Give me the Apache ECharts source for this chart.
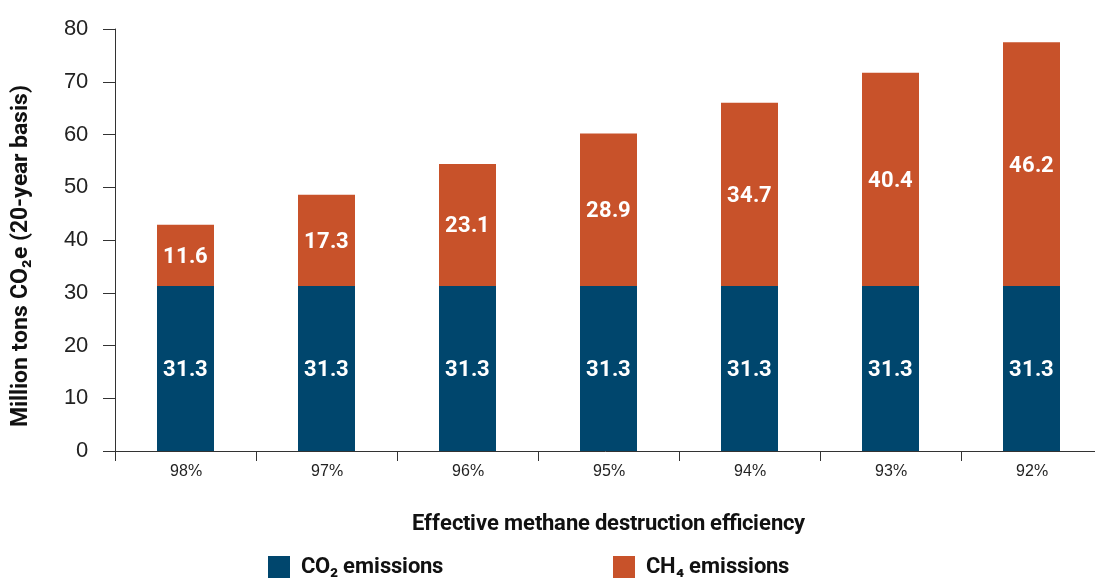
<!DOCTYPE html>
<html>
<head>
<meta charset="utf-8">
<style>
  @font-face {
    font-family: "ChartCond";
    font-weight: bold;
    src: local("Liberation Sans Narrow Bold"), local("LiberationSansNarrow-Bold"),
         local("Roboto Condensed Bold"), local("RobotoCondensed-Bold"),
         local("DejaVu Sans Condensed Bold"), local("DejaVuSansCondensed-Bold"),
         local("Open Sans Condensed Bold"), local("OpenSansCondensed-Bold");
  }
  @font-face {
    font-family: "ChartPlain";
    font-weight: normal;
    src: local("Liberation Sans"), local("LiberationSans"), local("LiberationSans-Regular"),
         local("Arimo"), local("Arimo-Regular");
  }
  html, body { margin: 0; padding: 0; background: #ffffff; }
  #chart { width: 1095px; height: 578px; }
</style>
<script src="https://cdn.jsdelivr.net/npm/echarts@6/dist/echarts.min.js"></script>
</head>
<body>
<div id="chart"></div>
<script>
// Destruction efficiency categories
const categories = ['98%', '97%', '96%', '95%', '94%', '93%', '92%'];
// Emissions, million tons CO2e (20-year basis)
const co2Emissions = [31.3, 31.3, 31.3, 31.3, 31.3, 31.3, 31.3];
const ch4Emissions = [11.6, 17.3, 23.1, 28.9, 34.7, 40.4, 46.2];
const yTicks = { min: 0, max: 80, interval: 10 };

const condensed = 'ChartCond, "Liberation Sans Narrow", "DejaVu Sans Condensed", "Liberation Sans", sans-serif';
const plain = 'ChartPlain, "Liberation Sans", Arial, sans-serif';
const blue = '#00466D';
const orange = '#C8522A';

function draw() {
  const chart = echarts.init(document.getElementById('chart'));

  const barLabel = {
    show: true,
    position: 'inside',
    color: '#ffffff',
    fontFamily: condensed,
    fontWeight: 'bold',
    fontSize: 22,
    offset: [0, 2],
    formatter: p => p.value.toFixed(1)
  };

  chart.setOption({
    animation: false,
    grid: {
      left: 115, width: 987, top: 29, bottom: 127,
      containLabel: false, outerBoundsMode: 'none'
    },
    legend: {
      bottom: 0,
      left: 268,
      padding: 0,
      itemWidth: 22,
      itemHeight: 22,
      itemGap: 170,
      icon: 'rect',
      textStyle: {
        fontFamily: condensed,
        fontWeight: 'bold',
        fontSize: 22,
        color: '#111111',
        padding: [0, 0, 0, 6]
      },
      data: ['CO₂ emissions', 'CH₄ emissions']
    },
    xAxis: {
      type: 'category',
      data: categories,
      name: 'Effective methane destruction efficiency',
      nameLocation: 'middle',
      nameGap: 62,
      nameTextStyle: {
        fontFamily: condensed,
        fontWeight: 'bold',
        fontSize: 22,
        color: '#111111'
      },
      axisLine: { lineStyle: { color: '#333333', width: 1 } },
      axisTick: { show: true, length: 10, lineStyle: { color: '#333333' } },
      axisLabel: { fontFamily: plain, fontSize: 16, color: '#222222', margin: 13 }
    },
    yAxis: {
      type: 'value',
      min: yTicks.min,
      max: yTicks.max,
      interval: yTicks.interval,
      name: 'Million tons CO₂e (20-year basis)',
      nameLocation: 'middle',
      nameRotate: 90,
      nameGap: 82,
      nameTextStyle: {
        fontFamily: condensed,
        fontWeight: 'bold',
        fontSize: 22.5,
        color: '#111111',
        padding: [0, 32, 0, 0]
      },
      splitLine: { show: false },
      axisLine: { show: true, lineStyle: { color: '#333333', width: 1 } },
      axisTick: { show: true, length: 12, lineStyle: { color: '#333333' } },
      axisLabel: { fontFamily: plain, fontSize: 22, color: '#222222', margin: 27 }
    },
    series: [
      {
        name: 'CO₂ emissions',
        type: 'bar',
        stack: 'total',
        barWidth: 57,
        itemStyle: { color: blue },
        label: barLabel,
        data: co2Emissions
      },
      {
        name: 'CH₄ emissions',
        type: 'bar',
        stack: 'total',
        barWidth: 57,
        itemStyle: { color: orange },
        label: barLabel,
        data: ch4Emissions
      }
    ]
  });
}

Promise.all([
  document.fonts.load('bold 20px ChartCond'),
  document.fonts.load('20px ChartPlain')
]).catch(() => {}).then(draw);
</script>
</body>
</html>
